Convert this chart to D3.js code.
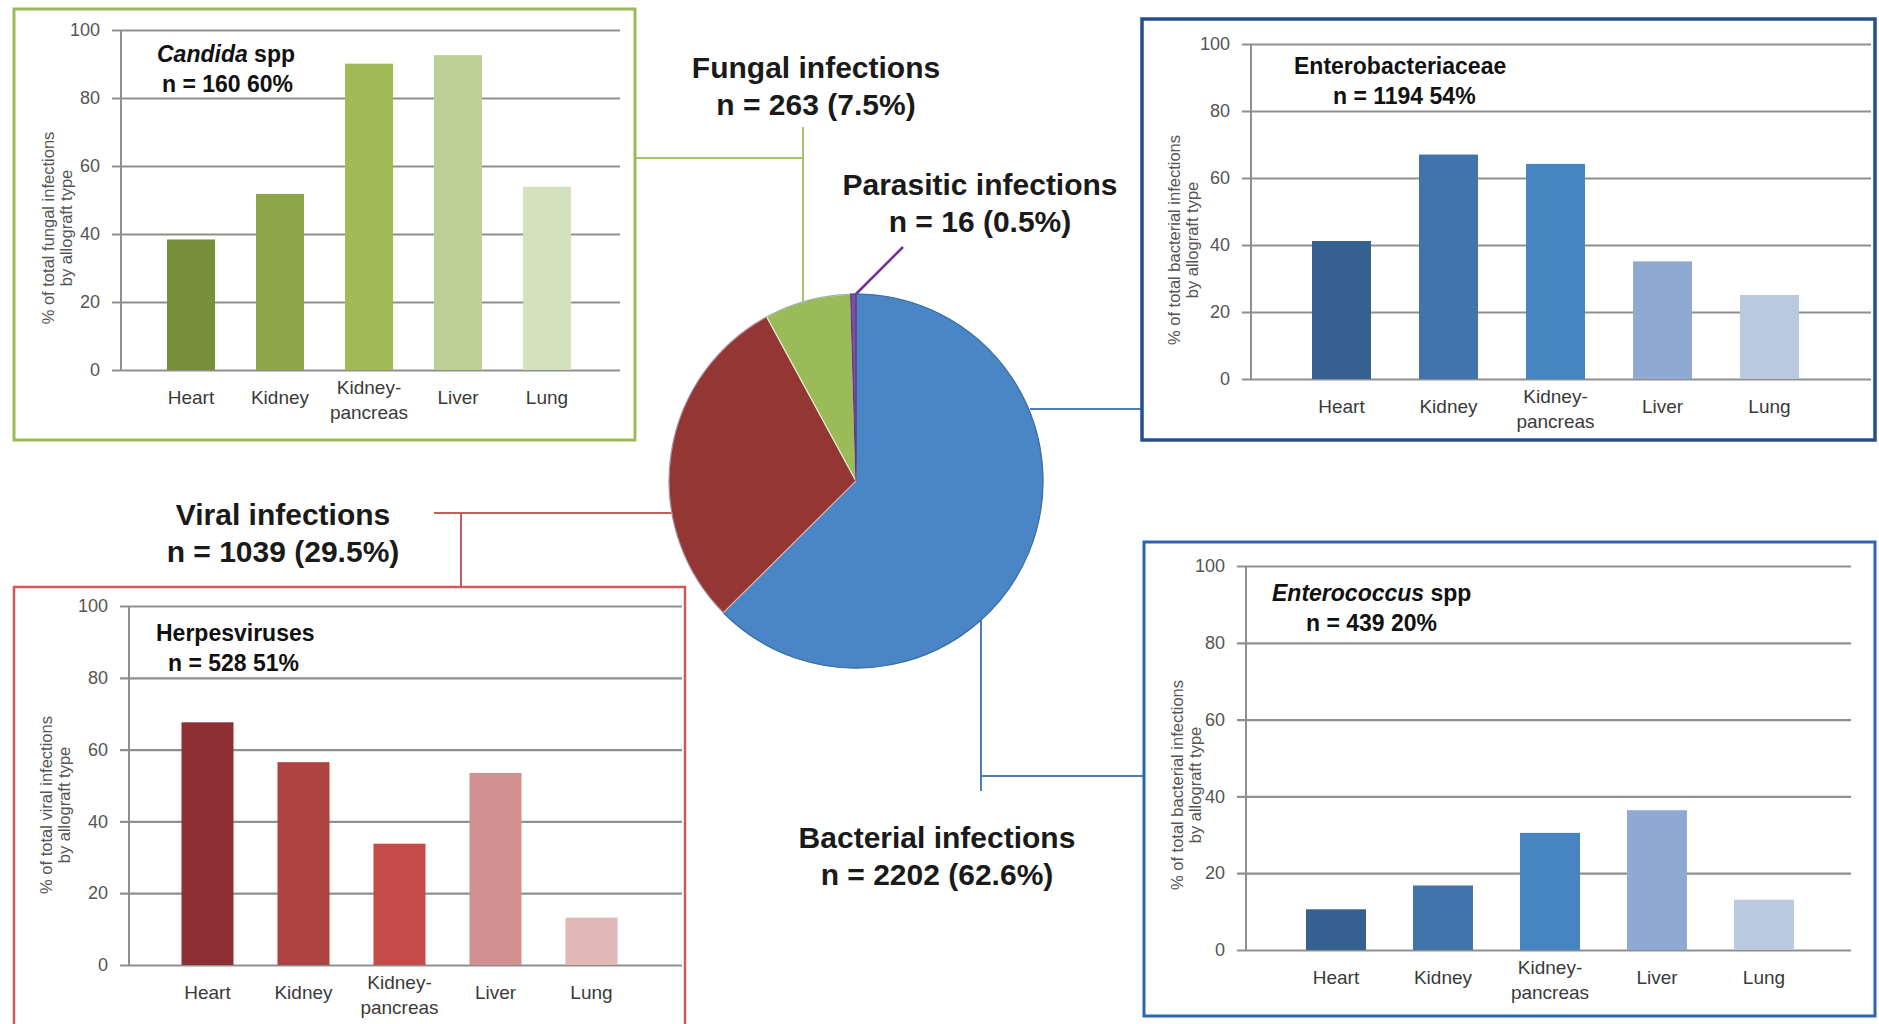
<!DOCTYPE html>
<html>
<head>
<meta charset="utf-8">
<script src="https://cdn.jsdelivr.net/npm/d3@7"></script>
<style>
  body { margin: 0; background: #fff; }
  svg { display: block; font-family: "Liberation Sans", Arial, sans-serif; }
</style>
</head>
<body>
<div id="chart"></div>
<script>
// allograft types shared by all four bar panels
const allografts = ["Heart", "Kidney", "Kidney-pancreas", "Liver", "Lung"];
const yTicks = [0, 20, 40, 60, 80, 100];

// % of infections by allograft type
const candidaValues = [38.4, 51.8, 90.1, 92.6, 53.9];
const enterobactValues = [41.2, 67, 64.2, 35.1, 25.1];
const herpesValues = [67.6, 56.5, 33.8, 53.5, 13.2];
const enterococcusValues = [10.6, 16.8, 30.5, 36.4, 13.1];

// pie
const infectionTypes = ["Bacterial", "Viral", "Fungal", "Parasitic"];
const infectionCounts = [2202, 1039, 263, 16];
const infectionLabels = [
  ["Bacterial infections", "n = 2202 (62.6%)"],
  ["Viral infections", "n = 1039 (29.5%)"],
  ["Fungal infections", "n = 263 (7.5%)"],
  ["Parasitic infections", "n = 16 (0.5%)"]
];

const width = 1879, height = 1024;

const svg = d3.select("#chart")
  .append("svg")
  .attr("width", width)
  .attr("height", height);

// leader lines (drawn first, pie goes on top)
const leaders = svg.append("g").attr("fill", "none").attr("stroke-width", 2);
leaders.append("path").attr("stroke", "#a9c46c").attr("d", "M635,158H803M803,127V302");
leaders.append("path").attr("stroke", "#7030a0").attr("stroke-width", 2.5).attr("d", "M903,247L855,295");
leaders.append("path").attr("stroke", "#4a7ebb").attr("d", "M1030,409H1142");
leaders.append("path").attr("stroke", "#4a7ebb").attr("d", "M981,620V791M981,776H1144");
leaders.append("path").attr("stroke", "#c0605a").attr("d", "M434,513H672M461,513V587");

// pie
const pieColors = d3.scaleOrdinal(infectionTypes, ["#4a86c5", "#943634", "#9bbb59", "#7f4fa0"]);
const pieStroke = d3.scaleOrdinal(infectionTypes, ["#3a6ea6", "#e8b4b0", "#e6efd0", "#5e3a80"]);
const pie = d3.pie().sort(null).value(d => d.count);
const arc = d3.arc().innerRadius(0).outerRadius(187);
const pieData = infectionTypes.map((t, i) => ({ type: t, count: infectionCounts[i] }));

svg.append("g")
  .attr("transform", "translate(856,481)")
  .selectAll("path")
  .data(pie(pieData))
  .join("path")
  .attr("d", arc)
  .attr("fill", d => pieColors(d.data.type))
  .attr("stroke", d => pieStroke(d.data.type))
  .attr("stroke-width", 1.2);

// outline of pie
svg.append("circle")
  .attr("cx", 856).attr("cy", 481).attr("r", 187)
  .attr("fill", "none").attr("stroke", "#3f6fa3").attr("stroke-opacity", 0.5).attr("stroke-width", 1);

// pie labels
const labelPos = [
  { x: 937, y: 848 },
  { x: 283, y: 525 },
  { x: 816, y: 78 },
  { x: 980, y: 195 }
];
infectionLabels.forEach((lines, i) => {
  const t = svg.append("text")
    .attr("text-anchor", "middle")
    .attr("font-weight", "bold")
    .attr("font-size", 30)
    .attr("fill", "#1a1a1a");
  lines.forEach((s, j) => {
    t.append("tspan")
      .attr("x", labelPos[i].x)
      .attr("y", labelPos[i].y + j * 37)
      .text(s);
  });
});

// bar panels
const panels = [
  {
    values: candidaValues,
    colors: ["#76903c", "#8ea64a", "#a0bb55", "#bccf94", "#d3e2bc"],
    box: [14, 9, 635, 440], border: "#9bbb59", borderWidth: 3,
    axisX: 121, gridRight: 620, y0: 370, y100: 30,
    band: [146.5, 591.5], barW: 48,
    title: [{ t: "Candida", italic: true }, { t: " spp" }], sub: "n = 160 60%",
    titleX: 157, titleY: 62, subX: 162,
    yTitle: "% of total fungal infections", yTitleX: 48, yTitleY: 228
  },
  {
    values: enterobactValues,
    colors: ["#36608f", "#4174aa", "#4684c2", "#8fa9d2", "#b8c9e0"],
    box: [1142, 19, 1875, 440], border: "#23508c", borderWidth: 3.5,
    axisX: 1251, gridRight: 1871, y0: 379, y100: 44,
    band: [1288, 1823], barW: 59,
    title: [{ t: "Enterobacteriaceae" }], sub: "n = 1194 54%",
    titleX: 1294, titleY: 74, subX: 1333,
    yTitle: "% of total bacterial infections", yTitleX: 1174, yTitleY: 240
  },
  {
    values: herpesValues,
    colors: ["#8e3033", "#ad4241", "#c44b4a", "#d39090", "#e2b8b8"],
    box: [14, 587, 685, 1030], border: "#d05a5a", borderWidth: 2.5,
    axisX: 129, gridRight: 682, y0: 965, y100: 606,
    band: [159.5, 639.5], barW: 52,
    title: [{ t: "Herpesviruses" }], sub: "n = 528 51%",
    titleX: 156, titleY: 641, subX: 168,
    yTitle: "% of total viral infections", yTitleX: 46, yTitleY: 805
  },
  {
    values: enterococcusValues,
    colors: ["#36608f", "#4174aa", "#4684c2", "#8fa9d2", "#b8c9e0"],
    box: [1144, 542, 1875, 1016], border: "#2d66ad", borderWidth: 3,
    axisX: 1246, gridRight: 1851, y0: 950, y100: 566,
    band: [1282.5, 1817.5], barW: 60,
    title: [{ t: "Enterococcus", italic: true }, { t: " spp" }], sub: "n = 439 20%",
    titleX: 1272, titleY: 601, subX: 1306,
    yTitle: "% of total bacterial infections", yTitleX: 1177, yTitleY: 785
  }
];

panels.forEach(p => {
  const g = svg.append("g");
  const [bx0, by0, bx1, by1] = p.box;

  g.append("rect")
    .attr("x", bx0).attr("y", by0)
    .attr("width", bx1 - bx0).attr("height", by1 - by0)
    .attr("fill", "#fff")
    .attr("stroke", p.border)
    .attr("stroke-width", p.borderWidth);

  const y = d3.scaleLinear().domain([0, 100]).range([p.y0, p.y100]);
  const step = (p.band[1] - p.band[0]) / allografts.length;
  const pad = 1 - p.barW / step;
  const x = d3.scaleBand()
    .domain(allografts)
    .range(p.band)
    .paddingInner(pad)
    .paddingOuter(pad / 2);

  // gridlines + tick labels
  const yAxis = g.append("g")
    .attr("transform", `translate(${p.axisX},0)`)
    .call(d3.axisLeft(y).tickValues(yTicks).tickSize(-(p.gridRight - p.axisX)).tickPadding(0));
  yAxis.select(".domain").remove();
  yAxis.selectAll(".tick line")
    .attr("x1", -9)
    .attr("stroke", "#8f8f8f")
    .attr("stroke-width", 2.2);
  yAxis.selectAll(".tick text")
    .attr("x", -21)
    .attr("font-size", 18)
    .attr("font-family", "\"Liberation Sans\", Arial, sans-serif")
    .attr("fill", "#555");

  g.append("line")
    .attr("x1", p.axisX).attr("x2", p.axisX)
    .attr("y1", y(0)).attr("y2", y(100))
    .attr("stroke", "#8f8f8f").attr("stroke-width", 2);

  // bars
  g.append("g")
    .selectAll("rect")
    .data(p.values)
    .join("rect")
    .attr("x", (d, i) => x(allografts[i]))
    .attr("width", x.bandwidth())
    .attr("y", d => y(d))
    .attr("height", d => y(0) - y(d))
    .attr("fill", (d, i) => p.colors[i]);

  // category labels
  g.append("g")
    .selectAll("text")
    .data(allografts)
    .join("text")
    .attr("text-anchor", "middle")
    .attr("font-size", 19)
    .attr("fill", "#3a3a3a")
    .each(function (d) {
      const cx = x(d) + x.bandwidth() / 2;
      const t = d3.select(this);
      if (d === "Kidney-pancreas") {
        t.append("tspan").attr("x", cx).attr("y", p.y0 + 24).text("Kidney-");
        t.append("tspan").attr("x", cx).attr("y", p.y0 + 49).text("pancreas");
      } else {
        t.append("tspan").attr("x", cx).attr("y", p.y0 + 34).text(d);
      }
    });

  // panel title
  const title = g.append("text")
    .attr("x", p.titleX).attr("y", p.titleY)
    .attr("font-size", 23).attr("font-weight", "bold").attr("fill", "#111");
  p.title.forEach(part => {
    title.append("tspan")
      .attr("font-style", part.italic ? "italic" : "normal")
      .text(part.t);
  });
  g.append("text")
    .attr("x", p.subX).attr("y", p.titleY + 30)
    .attr("font-size", 23).attr("font-weight", "bold").attr("fill", "#111")
    .text(p.sub);

  // y-axis title, two rotated lines
  [p.yTitle, "by allograft type"].forEach((s, j) => {
    g.append("text")
      .attr("transform", `translate(${p.yTitleX + j * 18},${p.yTitleY}) rotate(-90)`)
      .attr("text-anchor", "middle")
      .attr("dy", "0.35em")
      .attr("font-size", 16.5)
      .attr("fill", "#555")
      .text(s);
  });
});
</script>
</body>
</html>
